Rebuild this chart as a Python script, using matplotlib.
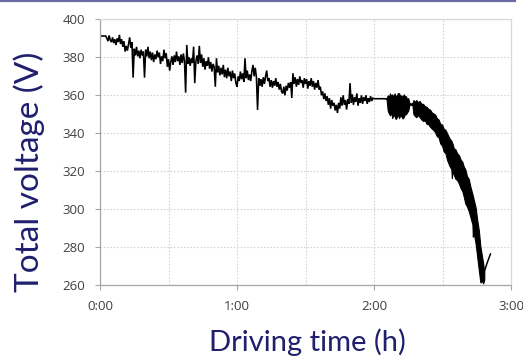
import numpy as np
import matplotlib
matplotlib.use("Agg")
import matplotlib.pyplot as plt
from matplotlib.lines import Line2D

# ---------------- data ----------------
# main trace, sampled every 0.5 min from 0:00 to 2:05
trace_start_min = 0.0
trace_step_min = 0.5
trace_volts = [
    391.2, 391.2, 391.2, 391.2, 391.2, 391.2, 390.0, 388.5, 391.5, 389.0,
    388.0, 390.5, 387.5, 389.5, 386.5, 390.0, 388.0, 391.8, 387.0, 389.5,
    385.5, 388.5, 383.0, 386.0, 383.5, 387.0, 390.5, 385.0, 388.0, 369.3,
    384.5, 381.0, 385.5, 380.5, 383.5, 379.5, 384.0, 381.0, 383.0, 369.3,
    384.0, 380.5, 385.5, 379.5, 383.0, 378.5, 382.5, 377.5, 381.5, 379.0,
    383.5, 380.0, 382.5, 376.5, 380.5, 378.0, 384.0, 379.5, 382.0, 375.0,
    379.0, 373.0, 377.5, 380.5, 376.0, 381.0, 377.5, 383.0, 378.0, 380.5,
    376.0, 381.5, 377.0, 382.0, 378.0, 361.4, 386.5, 376.5, 380.0, 375.5,
    379.5, 377.0, 385.6, 366.4, 378.0, 381.0, 376.5, 386.0, 377.0, 381.5,
    375.0, 379.5, 373.5, 378.0, 375.5, 380.0, 374.0, 377.5, 372.5, 376.5,
    375.0, 364.5, 379.5, 372.0, 375.5, 370.5, 374.5, 371.0, 376.0, 369.5,
    373.5, 369.0, 374.5, 370.0, 372.5, 367.5, 373.0, 369.0, 371.5, 366.5,
    364.5, 370.0, 367.5, 372.5, 368.5, 371.5, 367.0, 379.5, 369.0, 373.0,
    368.0, 371.0, 367.5, 372.5, 376.0, 370.0, 374.5, 369.5, 352.3, 369.0,
    365.0, 368.5, 364.5, 369.5, 366.0, 370.0, 373.0, 367.5, 369.0, 364.5,
    368.0, 364.0, 367.5, 365.0, 369.0, 364.5, 367.0, 363.0, 366.0, 362.0,
    361.0, 364.5, 360.0, 365.0, 362.5, 366.5, 364.0, 367.0, 358.6, 371.6,
    366.0, 369.5, 364.5, 368.5, 365.5, 370.0, 366.5, 368.0, 364.0, 369.0,
    366.0, 368.5, 363.5, 367.5, 365.0, 369.0, 364.5, 367.5, 363.0, 366.5,
    364.0, 368.0, 363.0, 364.5, 360.0, 362.0, 358.0, 361.0, 357.0, 359.5,
    355.0, 358.5, 353.0, 357.5, 354.5, 356.0, 352.0, 355.0, 350.7, 356.0,
    353.0, 359.0, 354.5, 360.0, 355.0, 357.5, 352.5, 358.0, 355.5, 366.4,
    356.0, 360.5, 355.0, 359.0, 356.5, 361.0, 354.5, 358.5, 356.0, 360.0,
    355.5, 359.0, 357.0, 360.0, 355.5, 358.5, 356.5, 359.5, 357.0, 358.5,
    358.2, 358.2, 358.2, 358.2, 358.2, 358.2, 358.2, 358.2, 358.2, 358.2,
    358.2,
]

# dense oscillating part (upper / lower envelope of the band)
band_min = [125.0, 125.5, 126, 126.5, 127, 127.5, 128, 128.5, 129, 129.5, 130,
            130.5, 131, 131.5, 132, 132.5, 133, 133.5, 134, 134.5, 135,
            135.5, 136.8, 137.3, 138, 138.5, 139.3, 140, 140.8, 141.5, 142.3,
            143, 143.8, 144.5, 145.3, 146, 146.8, 147.5, 148.3, 149, 149.8,
            150.5, 151.3, 152, 153, 153.9, 154.1, 154.4, 155, 155.7, 156.4,
            157.2, 158, 158.7, 159.3, 160, 160.7, 161.5, 162.2, 163.1, 163.3,
            163.5, 163.7, 164.5, 165.2, 165.9, 166.6, 167.2, 167.8, 168.3]
band_hi = [358.2, 358.3, 360, 359, 361, 359.5, 360.5, 359, 361, 359.5, 360,
           361.2, 361, 359.5, 360, 359, 360.5, 359.5, 359.5, 358, 358.5,
           355.8, 355.8, 357.5, 356.5, 357.5, 356.3, 357, 355.5, 355.5, 354.2,
           354, 352.8, 352.5, 351, 350.5, 349.8, 348, 347.2, 345, 344.6,
           342.5, 341.8, 340, 337.5, 336, 335.5, 334.5, 332, 331.5, 329.5,
           328.5, 326, 325, 322.5, 321, 317.5, 316, 312, 308, 307,
           306, 305, 301, 294.4, 289, 280.4, 276, 271.6, 267]
band_lo = [358.2, 358.0, 352, 350.5, 349.5, 351, 348, 350, 349, 347.5, 348.5,
           350, 348, 349.5, 349, 347.8, 348.5, 350, 350, 351, 352,
           355.0, 355.0, 350, 349, 348.5, 349.5, 348.5, 347.2, 346.5, 346.8,
           345, 344.8, 343.5, 342.5, 341.8, 340.5, 338.5, 337.8, 334.7, 333.5,
           330.5, 329.5, 326, 323, 321, 316.5, 320.5, 318, 316, 315.4,
           313.5, 311, 309.5, 306.7, 303, 301.5, 299, 296, 292, 285.6,
           290, 287.4, 282, 275, 268, 261.5, 262.5, 261, 263]

# recovery at the very end
tail_min = [168.0, 169.5, 171.0]
tail_volts = [266.0, 271.6, 276.5]

x_ticks_min = [0, 60, 120, 180]
x_tick_labels = ["0:00", "1:00", "2:00", "3:00"]
y_ticks = [260, 280, 300, 320, 340, 360, 380, 400]

# ---------------- figure ----------------
fig = plt.figure(figsize=(5.23, 3.58), dpi=100)
ax = fig.add_axes([100 / 523, 1 - 285.3 / 358, 411 / 523, 266 / 358])

trace_min = trace_start_min + trace_step_min * np.arange(len(trace_volts))
ax.plot(trace_min, trace_volts, color="black", lw=1.15, solid_joinstyle="miter")
ax.plot([trace_min[-1], band_min[0]], [trace_volts[-1], band_hi[0]], color="black", lw=1.1)
ax.fill_between(band_min, band_lo, band_hi, color="black", lw=0.8, edgecolor="black")
ax.plot(tail_min, tail_volts, color="black", lw=1.1)

ax.set_xlim(0, 180)
ax.set_ylim(260, 400)
ax.set_xticks(x_ticks_min)
ax.set_xticklabels(x_tick_labels)
ax.set_xticks([30, 90, 150], minor=True)
ax.set_yticks(y_ticks)

grid_kw = dict(color="#d4d4d4", lw=0.8, ls=(0, (1.5, 1.5)))
ax.grid(True, which="both", **grid_kw)
ax.set_axisbelow(True)

for lab in ax.get_xticklabels() + ax.get_yticklabels():
    lab.set_fontfamily("Open Sans")
    lab.set_fontsize(9.5)
    lab.set_color("#404040")
ax.tick_params(axis="both", which="major", length=3.6, width=0.8, color="#a6a6a6", pad=7)
ax.tick_params(axis="x", which="minor", length=0)

for side in ("left", "bottom"):
    ax.spines[side].set_color("#a6a6a6")
    ax.spines[side].set_linewidth(0.9)
for side in ("right", "top"):
    ax.spines[side].set_color("#d9d9d9")
    ax.spines[side].set_linewidth(0.9)

label_color = "#1f1f6e"
fig.text(29 / 523, 1 - 172 / 358, "Total voltage (V)", rotation=90, ha="center", va="center",
         family="Lato", fontsize=24, color=label_color)
fig.text(307 / 523, 1 - 342 / 358, "Driving time (h)", ha="center", va="center",
         family="Lato", fontsize=21, color=label_color)

fig.add_artist(Line2D([0, 515 / 523], [0.998, 0.998], color="#6b6ba6", lw=1.6,
                      transform=fig.transFigure))

fig.savefig("out.png", dpi=100)
